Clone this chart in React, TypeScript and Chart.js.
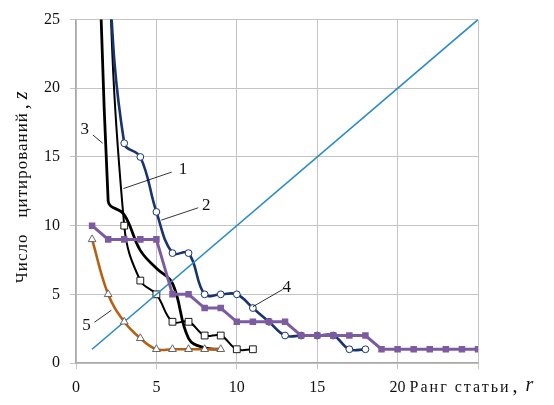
import React, { useEffect, useRef } from "react";
import { Chart, registerables } from "chart.js";

Chart.register(...registerables);

// ---- data ----
const rank1 = [1, 2, 3, 4, 5, 6, 7, 8, 9, 10, 11];
const cites1 = [100, 32, 10, 6, 5, 3, 3, 2, 2, 1, 1];

const rank2 = [1, 2, 3, 4, 5, 6, 7, 8, 9, 10, 11, 12, 13, 14, 15, 16, 17, 18];
const cites2 = [60, 30, 16, 15, 11, 8, 8, 5, 5, 5, 4, 3, 2, 2, 2, 2, 1, 1];

const rank3 = [1, 2, 3, 4, 5, 6, 7, 8, 9];
const cites3 = [60, 11.8, 10.8, 8.2, 6.9, 5.8, 1.8, 1.1, 1.0];

const rank4 = [1, 2, 3, 4, 5, 6, 7, 8, 9, 10, 11, 12, 13, 14, 15, 16, 17, 18, 19, 20, 21, 22, 23, 24, 25];
const cites4 = [10, 9, 9, 9, 9, 5, 5, 4, 4, 3, 3, 3, 3, 2, 2, 2, 2, 2, 1, 1, 1, 1, 1, 1, 1];

const rank5 = [1, 2, 3, 4, 5, 6, 7, 8, 9];
const cites5 = [9, 5, 3, 1.8, 1, 1, 1, 1, 1];

const diagRank = [1, 25];
const diagCites = [1, 25];

const xTickValues = [0, 5, 10, 15, 20];
const yTickValues = [0, 5, 10, 15, 20, 25];

const curveNames = ["1", "2", "3", "4", "5"];
const xTitle = "Ранг статьи";
const xTitleVar = "r";
const yTitleWords = ["Число", "цитирований"];
const yTitleVar = "z";

// label annotations in data units: text at (tx,ty), leader from (x1,y1) to (x2,y2)
const curveLabelAnchors = [
  { tx: 6.65, ty: 14.1, x1: 5.95, y1: 13.9, x2: 2.95, y2: 12.7 },
  { tx: 8.1, ty: 11.45, x1: 7.6, y1: 11.3, x2: 5.3, y2: 10.4 },
  { tx: 0.55, ty: 17.0, x1: 1.05, y1: 16.6, x2: 1.66, y2: 16.0 },
  { tx: 13.1, ty: 5.5, x1: 12.85, y1: 5.35, x2: 11.0, y2: 4.1 },
  { tx: 0.65, ty: 2.75, x1: 1.15, y1: 2.97, x2: 2.2, y2: 3.84 },
];

const pts = (xs: number[], ys: number[]) => xs.map((x, i) => ({ x, y: ys[i] }));

const SERIF = '"Liberation Serif", "Times New Roman", serif';

const annotPlugin = {
  id: "annot",
  afterDatasetsDraw(chart: any) {
    const { ctx, scales } = chart;
    const xs = scales.x;
    const ys = scales.y;
    ctx.save();
    ctx.strokeStyle = "#000";
    ctx.fillStyle = "#111";
    ctx.lineWidth = 0.8;
    ctx.font = `17px ${SERIF}`;
    ctx.textAlign = "center";
    ctx.textBaseline = "middle";
    curveLabelAnchors.forEach((a, i) => {
      ctx.beginPath();
      ctx.moveTo(xs.getPixelForValue(a.x1), ys.getPixelForValue(a.y1));
      ctx.lineTo(xs.getPixelForValue(a.x2), ys.getPixelForValue(a.y2));
      ctx.stroke();
      ctx.fillText(curveNames[i], xs.getPixelForValue(a.tx), ys.getPixelForValue(a.ty));
    });
    ctx.restore();
  },
  afterDraw(chart: any) {
    const { ctx, scales, chartArea } = chart;
    const xs = scales.x;
    ctx.save();
    ctx.fillStyle = "#111";
    ctx.textBaseline = "middle";
    ctx.textAlign = "left";
    // x title
    let px = xs.getPixelForValue(20) + 12;
    const py = chartArea.bottom + 25;
    ctx.font = `16px ${SERIF}`;
    (ctx as any).letterSpacing = "2px";
    ctx.fillText(xTitle, px, py);
    px += ctx.measureText(xTitle).width + 2;
    (ctx as any).letterSpacing = "0px";
    ctx.font = `20px ${SERIF}`;
    ctx.fillText(",", px, py - 1);
    px += ctx.measureText(", ").width + 3;
    ctx.font = `italic 20px ${SERIF}`;
    ctx.fillText(xTitleVar, px, py - 2);

    // y title (rotated)
    const cx = 23;
    const cy = (chartArea.top + chartArea.bottom) / 2 - 4;
    ctx.translate(cx, cy);
    ctx.rotate(-Math.PI / 2);
    ctx.font = `17px ${SERIF}`;
    (ctx as any).letterSpacing = "1px";
    const w1 = ctx.measureText(yTitleWords[0]).width;
    const gap = 16;
    const w2 = ctx.measureText(yTitleWords[1]).width;
    (ctx as any).letterSpacing = "0px";
    ctx.font = `20px ${SERIF}`;
    const wc = ctx.measureText(", ").width;
    ctx.font = `italic 20px ${SERIF}`;
    const wz = ctx.measureText(yTitleVar).width;
    const total = w1 + gap + w2 + 3 + wc + wz;
    let tx = -total / 2;
    ctx.font = `17px ${SERIF}`;
    (ctx as any).letterSpacing = "1px";
    ctx.fillText(yTitleWords[0], tx, 0);
    tx += w1 + gap;
    ctx.fillText(yTitleWords[1], tx, 0);
    tx += w2 + 3;
    (ctx as any).letterSpacing = "0px";
    ctx.font = `20px ${SERIF}`;
    ctx.fillText(",", tx, 0);
    tx += wc;
    ctx.font = `italic 20px ${SERIF}`;
    ctx.fillText(yTitleVar, tx, -1);
    ctx.restore();
  },
};

export default function App() {
  const ref = useRef<HTMLCanvasElement>(null);
  useEffect(() => {
    if (!ref.current) return;
    const gridColor = "#c4c4c4";
    const chart = new Chart(ref.current, {
      type: "line",
      data: {
        datasets: [
          {
            label: "4",
            data: pts(rank4, cites4),
            borderColor: "#7d5ba0",
            backgroundColor: "#7d5ba0",
            borderWidth: 3,
            pointStyle: "rect",
            pointRadius: 4.6,
            pointBorderWidth: 0,
            tension: 0,
            order: 1,
          },
          {
            label: "5",
            data: pts(rank5, cites5),
            borderColor: "#b85f12",
            backgroundColor: "#ffffff",
            pointBorderColor: "#555",
            borderWidth: 2.6,
            pointStyle: "triangle",
            pointRadius: 4.5,
            pointBorderWidth: 0.9,
            tension: 0.4,
            order: 2,
          },
          {
            label: "diag",
            data: pts(diagRank, diagCites),
            borderColor: "#2a8bc6",
            borderWidth: 1.6,
            pointRadius: 0,
            tension: 0,
            order: 3,
          },
          {
            label: "2",
            data: pts(rank2, cites2),
            borderColor: "#18336f",
            backgroundColor: "#ffffff",
            pointBorderColor: "#18336f",
            borderWidth: 2.6,
            pointStyle: "circle",
            pointRadius: 3.4,
            pointBorderWidth: 1,
            tension: 0.4,
            order: 4,
          },
          {
            label: "1",
            data: pts(rank1, cites1),
            borderColor: "#000000",
            backgroundColor: "#ffffff",
            pointBorderColor: "#000",
            borderWidth: 2,
            pointStyle: "rect",
            pointRadius: 4.8,
            pointBorderWidth: 0.9,
            tension: 0.4,
            order: 5,
          },
          {
            label: "3",
            data: pts(rank3, cites3),
            borderColor: "#000000",
            borderWidth: 2.8,
            pointRadius: 0,
            tension: 0.4,
            order: 6,
          },
        ],
      },
      options: {
        responsive: false,
        animation: false,
        events: [],
        layout: { padding: { left: 0, top: 18, right: 76, bottom: 0 } },
        plugins: { legend: { display: false }, tooltip: { enabled: false }, title: { display: false } },
        scales: {
          x: {
            type: "linear",
            min: 0,
            max: 25,
            afterFit: (s: any) => {
              s.height = 42;
            },
            afterBuildTicks: (s: any) => {
              s.ticks = [...xTickValues, 25].map((v) => ({ value: v }));
            },
            ticks: {
              autoSkip: false,
              maxRotation: 0,
              padding: 9,
              color: "#111",
              font: { family: SERIF, size: 16 },
              callback: (v: any) => (xTickValues.includes(Number(v)) ? String(v) : ""),
            },
            grid: { color: gridColor, lineWidth: 1, tickLength: 6, drawTicks: true },
            border: { color: "#a8a8a8", width: 1.3 },
          },
          y: {
            type: "linear",
            min: 0,
            max: 25,
            afterFit: (s: any) => {
              s.width = 76;
            },
            afterBuildTicks: (s: any) => {
              s.ticks = yTickValues.map((v) => ({ value: v }));
            },
            ticks: {
              padding: 10,
              color: "#111",
              font: { family: SERIF, size: 16 },
            },
            grid: { color: gridColor, lineWidth: 1, tickLength: 6, drawTicks: true },
            border: { color: "#a8a8a8", width: 1.3 },
          },
        },
      },
      plugins: [annotPlugin],
    } as any);
    return () => chart.destroy();
  }, []);
  return (
    <div style={{ position: "absolute", left: 0, top: 0, width: 554, height: 405, background: "#fff" }}>
      <canvas ref={ref} width={554} height={405} style={{ display: "block" }} />
    </div>
  );
}
